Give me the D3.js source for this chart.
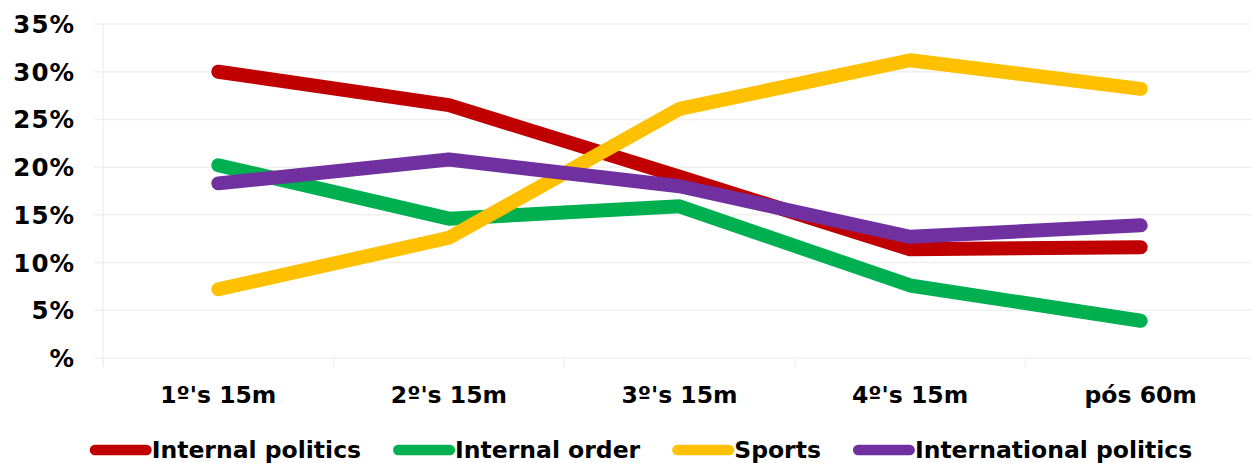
<!DOCTYPE html>
<html>
<head>
<meta charset="utf-8">
<script src="https://cdn.jsdelivr.net/npm/d3@7"></script>
<style>
  html, body { margin: 0; padding: 0; background: #fff; }
  svg { display: block; }
  text { font-family: "DejaVu Sans", Verdana, sans-serif; font-weight: bold; fill: #000; }
</style>
</head>
<body>
<svg id="chart" width="1251" height="463"></svg>
<script>
const categories = ["1º's 15m", "2º's 15m", "3º's 15m", "4º's 15m", "pós 60m"];
const seriesNames = ["Internal politics", "Internal order", "Sports", "International politics"];
const internalPolitics = [30.0, 26.5, 19.0, 11.4, 11.6];
const internalOrder = [20.2, 14.6, 15.9, 7.6, 3.9];
const sports = [7.2, 12.6, 26.1, 31.2, 28.2];
const internationalPolitics = [18.3, 20.8, 18.0, 12.7, 13.9];
const yTicks = [0, 5, 10, 15, 20, 25, 30, 35];
const yTickLabels = ["%", "5%", "10%", "15%", "20%", "25%", "30%", "35%"];
const colors = ["#C00000", "#00B050", "#FFC000", "#7030A0"];

const series = [internalPolitics, internalOrder, sports, internationalPolitics];

const W = 1251, H = 463;
const plotLeft = 103, plotRight = 1256, plotTop = 24, plotBottom = 358;
const svg = d3.select("#chart");

const x = d3.scalePoint().domain(categories).range([plotLeft, plotRight]).padding(0.5);
const y = d3.scaleLinear().domain([0, 35]).range([plotBottom, plotTop]);
const gridColor = "#F0F0F0";

// horizontal gridlines
svg.append("g").selectAll("line").data(yTicks).join("line")
  .attr("x1", plotLeft - 9).attr("x2", W)
  .attr("y1", d => y(d)).attr("y2", d => y(d))
  .attr("stroke", gridColor).attr("stroke-width", 1.5);

// left axis line
svg.append("line")
  .attr("x1", plotLeft).attr("x2", plotLeft)
  .attr("y1", plotTop).attr("y2", plotBottom + 9)
  .attr("stroke", gridColor).attr("stroke-width", 1.5);

// bottom category boundary ticks
const step = x.step();
const boundaries = categories.map(c => x(c) - step / 2);
svg.append("g").selectAll("line").data(boundaries).join("line")
  .attr("x1", d => d).attr("x2", d => d)
  .attr("y1", plotBottom).attr("y2", plotBottom + 9)
  .attr("stroke", gridColor).attr("stroke-width", 1.5);

// y labels
svg.append("g").selectAll("text").data(yTicks).join("text")
  .attr("x", 75).attr("y", d => y(d) + 9)
  .attr("text-anchor", "end")
  .style("font-size", "24.5px")
  .style("letter-spacing", "1px")
  .text((d, i) => yTickLabels[i]);

// x labels
svg.append("g").selectAll("text").data(categories).join("text")
  .attr("x", d => x(d)).attr("y", 403)
  .attr("text-anchor", "middle")
  .style("font-size", "23.5px")
  .text(d => d);

// lines
const line = d3.line()
  .x((d, i) => x(categories[i]))
  .y(d => y(d));

svg.append("g").selectAll("path").data(series).join("path")
  .attr("d", d => line(d))
  .attr("fill", "none")
  .attr("stroke", (d, i) => colors[i])
  .attr("stroke-width", 14)
  .attr("stroke-linecap", "round")
  .attr("stroke-linejoin", "round");

// legend
const legend = svg.append("g");
const symLen = 62, lineW = 10.5, gap = 32;
let cx = 0;
seriesNames.forEach((name, i) => {
  const g = legend.append("g");
  g.append("line")
    .attr("x1", lineW / 2).attr("x2", symLen - lineW / 2)
    .attr("y1", 450).attr("y2", 450)
    .attr("stroke", colors[i]).attr("stroke-width", lineW)
    .attr("stroke-linecap", "round");
  const t = g.append("text")
    .attr("x", symLen).attr("y", 458)
    .style("font-size", "23.5px")
    .text(name);
  const w = symLen + t.node().getComputedTextLength();
  g.attr("transform", `translate(${cx},0)`);
  cx += w + gap;
});
const total = cx - gap;
legend.attr("transform", `translate(${641 - total / 2},0)`);
</script>
</body>
</html>
